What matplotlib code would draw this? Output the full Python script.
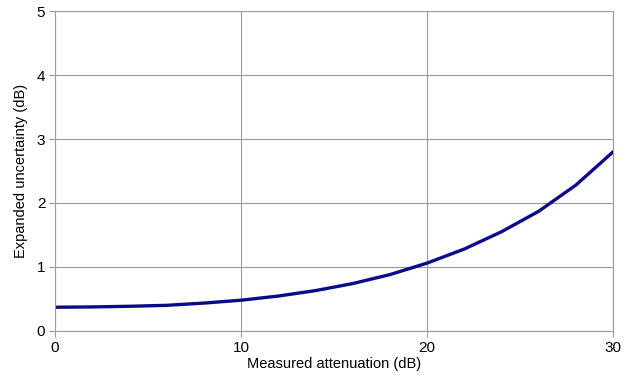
import matplotlib
matplotlib.use("Agg")
import matplotlib.pyplot as plt

attenuation = [0, 2, 4, 6, 8, 10, 12, 14, 16, 18, 20, 22, 24, 26, 28, 30]
uncertainty = [0.37, 0.375, 0.385, 0.40, 0.435, 0.48, 0.545, 0.63, 0.74, 0.88, 1.06, 1.28, 1.55, 1.87, 2.28, 2.80]
x_ticks = [0, 10, 20, 30]
y_ticks = [0, 1, 2, 3, 4, 5]

plt.rcParams['font.family'] = ['Liberation Sans', 'DejaVu Sans']

fig = plt.figure(figsize=(6.43, 3.83), dpi=100)
ax = fig.add_axes([0.0855, 0.136, 0.868, 0.835])
ax.plot(attenuation, uncertainty, color='#0a0a8c', lw=2.4, solid_capstyle='round',
        solid_joinstyle='round')
ax.set_xlim(0, 30)
ax.set_ylim(0, 5)
ax.set_xticks(x_ticks)
ax.set_yticks(y_ticks)
ax.grid(True, color='#9a9a9a', lw=0.8)
ax.set_axisbelow(True)
for s in ax.spines.values():
    s.set_color('#9a9a9a')
    s.set_linewidth(0.8)
ax.tick_params(direction='out', length=4, color='#9a9a9a', labelsize=11, pad=3)
ax.set_xlabel('Measured attenuation (dB)', fontsize=10.5, labelpad=2)
ax.set_ylabel('Expanded uncertainty (dB)', fontsize=10.5, labelpad=6)
fig.savefig('out.png', dpi=100)
